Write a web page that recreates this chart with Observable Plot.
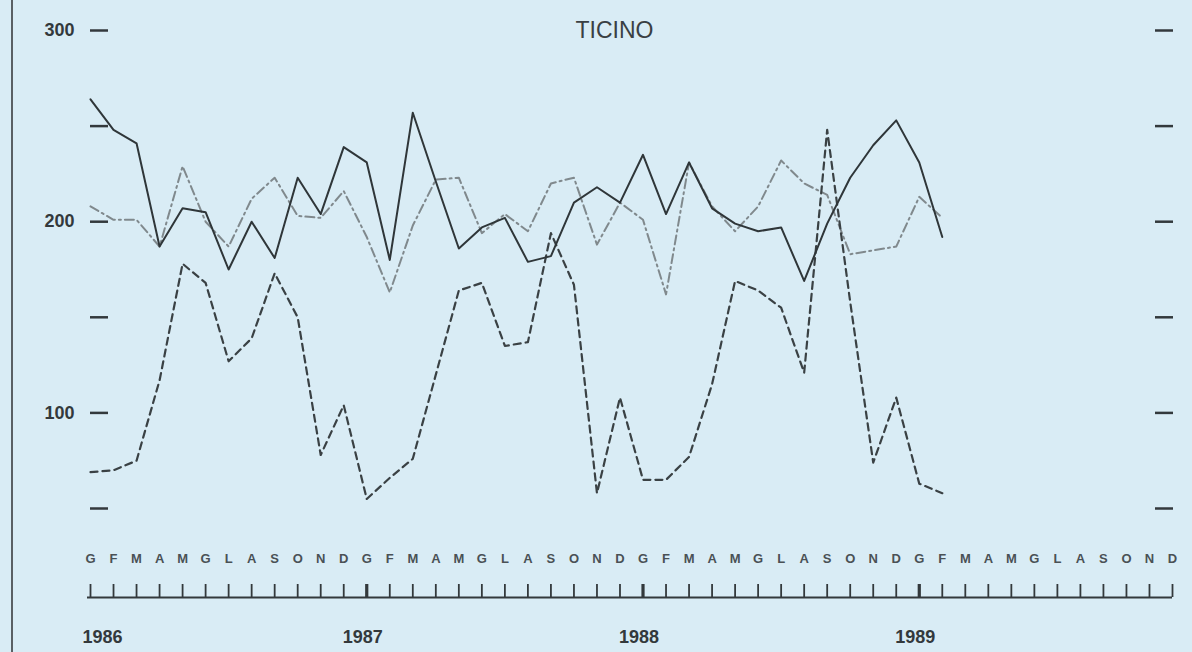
<!DOCTYPE html>
<html>
<head>
<meta charset="utf-8">
<script src="https://cdn.jsdelivr.net/npm/d3@7"></script>
<script src="https://cdn.jsdelivr.net/npm/@observablehq/plot@0.6"></script>
<style>
  html, body { margin: 0; padding: 0; background: #d9ecf5; }
  #wrap { position: relative; width: 1192px; height: 652px; overflow: hidden; }
  #border { position: absolute; left: 11px; top: 0; width: 2px; height: 652px; background: #5a6064; }
</style>
</head>
<body>
<div id="wrap"><div id="border"></div></div>
<script>
// Month initials (Italian), year labels
const monthLetters = ["G","F","M","A","M","G","L","A","S","O","N","D"];
const years = ["1986","1987","1988","1989"];
const yLabels = [300, 200, 100];
const yTicks = [50, 100, 150, 200, 250, 300];

// Monthly values, Jan 1986 – Feb 1989
const solid = [264, 248, 241, 187, 207, 205, 175, 200, 181, 223, 204, 239,
               231, 180, 257, 221, 186, 197, 202, 179, 182, 210, 218, 210,
               235, 204, 231, 207, 199, 195, 197, 169, 199, 223, 240, 253,
               231, 192];
const dashDot = [208, 201, 201, 187, 229, 200, 187, 212, 223, 203, 202, 216,
                 192, 163, 198, 222, 223, 194, 204, 195, 220, 223, 188, 210,
                 201, 162, 231, 208, 195, 208, 232, 220, 214, 183, 185, 187,
                 213, 202];
const dashed = [69, 70, 75, 117, 178, 168, 127, 139, 173, 150, 78, 104,
                55, 66, 76, 120, 164, 168, 135, 137, 194, 167, 58, 108,
                65, 65, 77, 115, 169, 164, 155, 121, 248, 158, 74, 108,
                63, 58];

const months = d3.range(48);
const ink = "#33393c";

const chart = Plot.plot({
  width: 1192,
  height: 652,
  marginLeft: 90,
  marginRight: 20,
  marginTop: 30,
  marginBottom: 144,
  x: {domain: [0, 47], axis: null},
  y: {domain: [50, 300], axis: null},
  style: {background: "#d9ecf5", color: ink, fontFamily: "'Liberation Sans', Arial, sans-serif"},
  marks: [
    // y axis labels and ticks
    Plot.axisY(yLabels, {anchor: "left", tickSize: 0, tickPadding: 16, fontSize: 18, fontWeight: "bold"}),
    Plot.axisY(yTicks, {anchor: "left", tickSize: 18, dx: 18, tickFormat: () => "", strokeWidth: 2.5}),
    Plot.axisY(yTicks, {anchor: "right", tickSize: 18, dx: -18, tickFormat: () => "", strokeWidth: 2.5}),
    // month letters
    Plot.axisX(months, {anchor: "bottom", tickSize: 0, tickPadding: 45, tickFormat: i => monthLetters[i % 12], fontSize: 13, fontWeight: "bold", fill: "#4a5155"}),
    // month ticks and baseline
    Plot.axisX(months, {anchor: "bottom", tickSize: 13, dy: 76, tickFormat: () => "", strokeWidth: 1.8}),
    Plot.axisX(months.filter(i => i > 0 && i % 12 === 0), {anchor: "bottom", tickSize: 13, dy: 76, tickFormat: () => "", strokeWidth: 3.2}),
    Plot.ruleY([50], {dy: 89, insetLeft: -3, strokeWidth: 1.8, stroke: ink}),
    // year labels
    Plot.text(years.slice(0, 1), {x: 0, frameAnchor: "bottom", dy: 129, textAnchor: "start", dx: -8, fontSize: 18, fontWeight: "bold", lineAnchor: "middle"}),
    Plot.text(years.slice(1), {x: (d, i) => (i + 1) * 12, frameAnchor: "bottom", dy: 129, dx: -4, fontSize: 18, fontWeight: "bold", lineAnchor: "middle"}),
    // title
    Plot.text(["TICINO"], {frameAnchor: "top", dx: -17, fontSize: 23, lineAnchor: "middle", fill: "#3a4043", style: "letter-spacing: 3px"}),
    // series
    Plot.line(dashDot, {x: (d, i) => i, y: d => d, stroke: "#80898d", strokeWidth: 2, strokeDasharray: "9,4,2,4"}),
    Plot.line(dashed, {x: (d, i) => i, y: d => d, stroke: "#3a4144", strokeWidth: 2.2, strokeDasharray: "7,5"}),
    Plot.line(solid, {x: (d, i) => i, y: d => d, stroke: "#2f3639", strokeWidth: 2})
  ]
});
document.getElementById("wrap").appendChild(chart);
</script>
</body>
</html>
